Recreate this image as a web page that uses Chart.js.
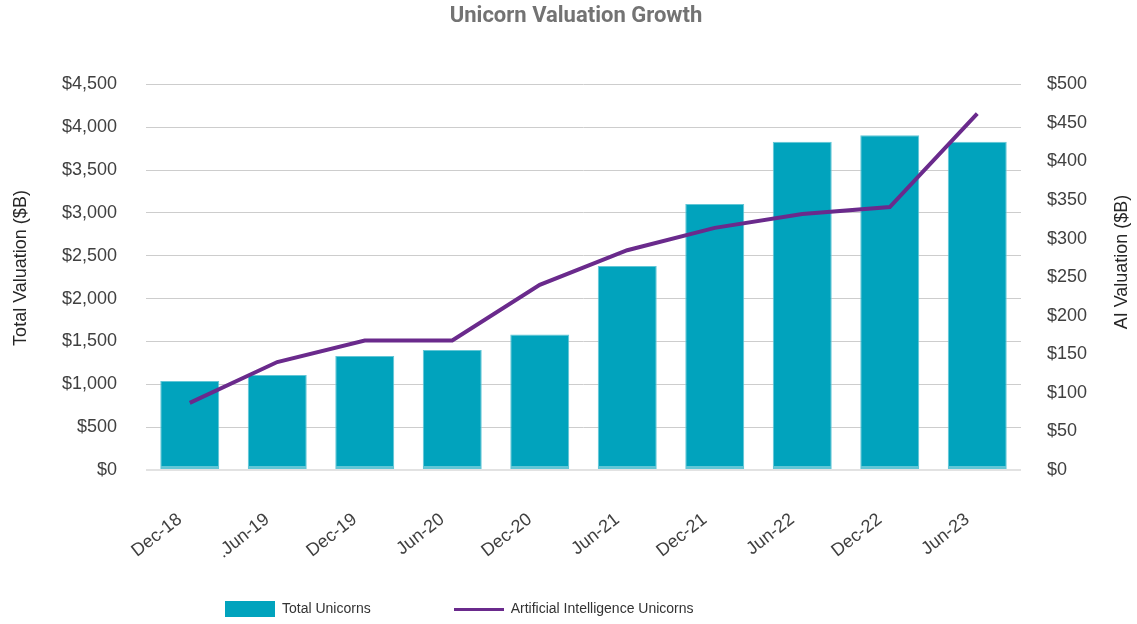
<!DOCTYPE html>
<html>
<head>
<meta charset="utf-8">
<script src="https://cdn.jsdelivr.net/npm/chart.js@4"></script>
<style>
  html, body { margin: 0; padding: 0; background: #fff; }
  #wrap { width: 1137px; height: 624px; }
</style>
</head>
<body>
<div id="wrap"><canvas id="chart"></canvas></div>
<script>
const periods = ["Dec-18", ".Jun-19", "Dec-19", "Jun-20", "Dec-20", "Jun-21", "Dec-21", "Jun-22", "Dec-22", "Jun-23"];
const totalUnicorns = [1038, 1108, 1329, 1399, 1582, 2382, 3105, 3832, 3906, 3832];
const aiUnicorns = [87, 140, 168, 168, 240, 285, 314, 332, 341, 462];
const leftTicks = [0, 500, 1000, 1500, 2000, 2500, 3000, 3500, 4000, 4500];
const rightTicks = [0, 50, 100, 150, 200, 250, 300, 350, 400, 450, 500];
const axisTitles = ["Total Valuation ($B)", "AI Valuation ($B)"];

const TEAL = "#01a3bd";
const PURPLE = "#6a2a8c";
const TXT = "#404040";
const FONT = "'Liberation Sans', Arial, sans-serif";

const ctx = document.getElementById("chart").getContext("2d");

// little canvases used as legend markers
function swatch(w, h, color) {
    const c = document.createElement("canvas");
    c.width = w;
    c.height = h;
    const g = c.getContext("2d");
    g.fillStyle = color;
    g.fillRect(0, 0, w, h);
    return c;
}
const markers = [swatch(50, 16, TEAL), swatch(50, 3, PURPLE)];

const money = v => "$" + v.toLocaleString("en-US");

// move the legend (and nudge the title) to where the original has them
const legendSpot = {
    id: "legendSpot",
    afterLayout(chart) {
        const lg = chart.legend;
        const pad = lg.options.labels.padding;
        lg.left = 225 - pad;
        lg.right = chart.width;
        lg.top = 602 - pad;
        lg.bottom = chart.height;
        chart.titleBlock.left = 15;
    }
};

// both axis titles read bottom-to-top in the original, so draw them here
const sideTitles = {
    id: "sideTitles",
    afterDraw(chart) {
        const c = chart.ctx;
        const spots = [[21, 268], [1122, 262]];
        c.save();
        c.fillStyle = "#262626";
        c.font = "18px " + FONT;
        c.textAlign = "center";
        c.textBaseline = "middle";
        axisTitles.forEach((t, i) => {
            c.save();
            c.translate(spots[i][0], spots[i][1]);
            c.rotate(-Math.PI / 2);
            c.fillText(t, 0, 0);
            c.restore();
        });
        c.restore();
    }
};

new Chart(ctx, {
    type: "bar",
    data: {
        labels: periods,
        datasets: [
            {
                label: "Total Unicorns",
                data: totalUnicorns,
                yAxisID: "y",
                backgroundColor: TEAL,
                borderColor: "#62c6d6",
                borderWidth: {top: 1, left: 1, right: 1, bottom: 3},
                borderSkipped: false,
                categoryPercentage: 1,
                barPercentage: 0.674,
                order: 1
            },
            {
                type: "line",
                label: "Artificial Intelligence Unicorns",
                data: aiUnicorns,
                yAxisID: "y1",
                borderColor: PURPLE,
                backgroundColor: PURPLE,
                borderWidth: 4,
                pointRadius: 0,
                tension: 0,
                order: 0
            }
        ]
    },
    options: {
        responsive: true,
        maintainAspectRatio: false,
        animation: false,
        layout: {padding: 0},
        plugins: {
            title: {
                display: true,
                text: "Unicorn Valuation Growth",
                color: "#737373",
                font: {family: "Roboto", size: 22, weight: "bold"},
                padding: {top: 3, bottom: 55}
            },
            legend: {
                position: "bottom",
                align: "start",
                maxHeight: 40,
                labels: {
                    usePointStyle: true,
                    pointStyleWidth: 50,
                    padding: 83,
                    color: "#333",
                    font: {family: FONT, size: 14},
                    sort: (a, b) => a.datasetIndex - b.datasetIndex,
                    generateLabels(chart) {
                        const items = Chart.defaults.plugins.legend.labels.generateLabels(chart);
                        items.forEach(it => { it.pointStyle = markers[it.datasetIndex]; });
                        return items;
                    }
                }
            },
            tooltip: {enabled: false}
        },
        scales: {
            x: {
                grid: {display: false},
                border: {display: false},
                ticks: {
                    color: TXT,
                    font: {family: FONT, size: 18},
                    minRotation: 38,
                    maxRotation: 38,
                    padding: 31,
                    labelOffset: -10,
                    autoSkip: false
                },
                afterFit: s => { s.height = 114; }
            },
            y: {
                position: "left",
                min: leftTicks[0],
                max: leftTicks[leftTicks.length - 1],
                afterBuildTicks: s => { s.ticks = leftTicks.map(v => ({value: v})); },
                grid: {
                    drawTicks: false,
                    color: c => c.index === 0 ? "#e2e2e2" : "#cdcdcd",
                    lineWidth: c => c.index === 0 ? 2 : 1
                },
                border: {display: false},
                ticks: {
                    color: TXT,
                    font: {family: FONT, size: 18},
                    padding: 29,
                    callback: money
                },
                afterFit: s => { s.width = 146; }
            },
            y1: {
                position: "right",
                min: rightTicks[0],
                max: rightTicks[rightTicks.length - 1],
                afterBuildTicks: s => { s.ticks = rightTicks.map(v => ({value: v})); },
                grid: {display: false, drawTicks: false},
                border: {display: false},
                ticks: {
                    color: TXT,
                    font: {family: FONT, size: 18},
                    padding: 26,
                    callback: money
                },
                afterFit: s => { s.width = 116; }
            }
        }
    },
    plugins: [legendSpot, sideTitles]
});
</script>
</body>
</html>
